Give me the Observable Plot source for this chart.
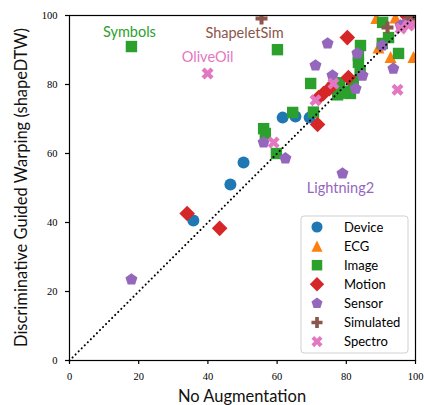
<!DOCTYPE html>
<html><head><meta charset="utf-8">
<script src="https://cdn.jsdelivr.net/npm/d3@7"></script>
<script src="https://cdn.jsdelivr.net/npm/@observablehq/plot@0.6"></script>
<style>
body{margin:0;background:#fff}
#chart{position:relative;width:424px;height:405px}
</style>
</head><body><div id="chart"></div>
<script>
// ---- data ----
const categories = ["Device","ECG","Image","Motion","Sensor","Simulated","Spectro"];
const colors = ["#1f77b4","#ff7f0e","#2ca02c","#d62728","#9467bd","#8c564b","#e377c2"];
const device = [[35.8,40.6],[46.5,51],[50.3,57.4],[61.6,70.4],[65.3,70.7],[69.4,70.4]];
const ecg = [[88.7,99.3],[94.2,99.4],[99,99.2],[92.8,88],[99.4,88],[89.3,90.7],[92.2,94.2]];
const image = [[17.9,91],[60.1,90.1],[59.8,60],[56.1,67.2],[56.6,65.8],[64.5,71.9],[69.7,80.3],[90.5,98],[84.1,91.3],[83.5,88.4],[95.1,89],[90.4,91.9],[92.2,93.6],[83.5,86.4],[76,79],[78,80.5],[80,78],[82,81],[84,84],[77.5,77],[70.5,72],[79,77.5],[81.2,77.4]];
const motion = [[34,42.6],[43.4,38.3],[80.3,93.6],[71.7,68.4],[73.4,77.4],[72,76.2],[75.1,78.8],[80.6,82],[97.7,99.7]];
const sensor = [[17.9,23.5],[62.4,58.6],[78.9,54.2],[74.6,91.9],[71.1,85.5],[56.1,63.2],[76,82.6],[82.7,78.8],[84.7,82.6],[93.6,84.6],[83.2,89],[90.4,91.3],[95.7,97.1],[97.5,98]];
const simulated = [[55.5,99.1],[91.9,96.5],[98.6,99.1]];
const spectro = [[39.9,83.2],[59,63.2],[94.8,78.5],[76.3,80.3],[71.1,75.4],[95.7,96.2],[98,97.1],[99.5,97.5]];
const seriesValues = [device, ecg, image, motion, sensor, simulated, spectro];
const xTicks = [0,20,40,60,80,100];
const yTicks = [0,20,40,60,80,100];
const labelNames = ["Symbols","ShapeletSim","OliveOil","Lightning2"];
const labelCats = ["Image","Simulated","Spectro","Sensor"];
const labelPoints = [[17.9,91],[55.5,99.1],[39.9,83.2],[78.9,54.2]];
const labelOffsets = [[-2,-14],[-17,15],[0,-16],[-2,15]];

// ---- marker shapes (matplotlib o ^ s D p P X) ----
function half(s){return Math.sqrt(s/Math.PI);}
const shapes = [
  {draw(c,s){const h=half(s); c.moveTo(h,0); c.arc(0,0,h,0,2*Math.PI); c.closePath();}},
  {draw(c,s){const h=half(s); c.moveTo(0,-h); c.lineTo(h,h); c.lineTo(-h,h); c.closePath();}},
  {draw(c,s){const h=half(s)*0.95; c.moveTo(-h,-h); c.lineTo(h,-h); c.lineTo(h,h); c.lineTo(-h,h); c.closePath();}},
  {draw(c,s){const a=half(s)*1.3; c.moveTo(0,-a); c.lineTo(a,0); c.lineTo(0,a); c.lineTo(-a,0); c.closePath();}},
  {draw(c,s){const h=half(s)*1.05; for(let k=0;k<5;k++){const t=-Math.PI/2+k*2*Math.PI/5; const px=h*Math.cos(t), py=h*Math.sin(t); k?c.lineTo(px,py):c.moveTo(px,py);} c.closePath();}},
  {draw(c,s){const h=half(s), w=h/3; const p=[[-w,-h],[w,-h],[w,-w],[h,-w],[h,w],[w,w],[w,h],[-w,h],[-w,w],[-h,w],[-h,-w],[-w,-w]]; p.forEach((q,i)=>i?c.lineTo(q[0],q[1]):c.moveTo(q[0],q[1])); c.closePath();}},
  {draw(c,s){const u=half(s)/2; const p=[[-1,-2],[0,-1],[1,-2],[2,-1],[1,0],[2,1],[1,2],[0,1],[-1,2],[-2,1],[-1,0],[-2,-1]]; p.forEach((q,i)=>i?c.lineTo(q[0]*u,q[1]*u):c.moveTo(q[0]*u,q[1]*u)); c.closePath();}}
];

const R = 6;
const sans = "Lato, 'Open Sans', sans-serif";
const serif = "'Liberation Serif', 'DejaVu Serif', serif";

const dotMarks = seriesValues.map((pts,i) => Plot.dot(pts, {
  x: d=>d[0], y: d=>d[1], r: R, symbol: shapes[i], fill: colors[i], stroke: "none", clip: true
}));

const labelData = labelNames.map((n,i)=>({name:n, x:labelPoints[i][0], y:labelPoints[i][1], dx:labelOffsets[i][0], dy:labelOffsets[i][1], color: colors[categories.indexOf(labelCats[i])]}));

const plot = Plot.plot({
  width: 424, height: 405,
  marginLeft: 69, marginRight: 9, marginTop: 15, marginBottom: 45,
  x: {domain:[0,100]},
  y: {domain:[0,100]},
  style: {background:"white"},
  marks: [
    ...dotMarks,
    Plot.line([[0,0],[100,100]], {x:d=>d[0], y:d=>d[1], stroke:"black", strokeWidth:2, strokeDasharray:"0.1,4.2", strokeLinecap:"round"}),
    ...labelData.map(d => Plot.text([d], {x:"x", y:"y", text:"name", dx:d.dx, dy:d.dy, fill:d.color, fontSize:14.5, fontFamily:sans})),
    Plot.frame({stroke:"black", strokeWidth:1.2}),
    Plot.axisX({ticks:xTicks, tickSize:4, tickPadding:8, label:null, fontSize:10.5, fontFamily:serif, strokeWidth:1.2}),
    Plot.axisY({ticks:yTicks, tickSize:4, tickPadding:8, label:null, fontSize:10.5, fontFamily:serif, strokeWidth:1.2})
  ]
});

const svg = d3.select(plot);
const xs = plot.scale("x").range, ys = plot.scale("y").range;
const cx = (xs[0]+xs[1])/2, cy = (ys[0]+ys[1])/2;
svg.append("text").attr("x", cx).attr("y", 402).attr("text-anchor","middle")
  .style("font-family", sans).style("font-size","16.5px").attr("fill","#111").text("No Augmentation");
svg.append("text").attr("transform", `translate(27,${cy}) rotate(-90)`).attr("text-anchor","middle")
  .style("font-family", sans).style("font-size","16.5px").attr("fill","#111").text("Discriminative Guided Warping (shapeDTW)");

// legend
const right = xs[1], bottom = ys[0];
const lg = svg.append("g").attr("transform", `translate(${right-114},${bottom-144})`);
lg.append("rect").attr("x",0).attr("y",0).attr("width",107).attr("height",137).attr("rx",3)
  .attr("fill","white").attr("fill-opacity",0.85).attr("stroke","#d0d0d0").attr("stroke-width",1);
categories.forEach((c,i)=>{
  const yy = 11 + i*19.1;
  const p = d3.path(); shapes[i].draw(p, Math.PI*R*R*0.85);
  lg.append("path").attr("d", p.toString()).attr("transform", `translate(16,${yy})`).attr("fill", colors[i]);
  lg.append("text").attr("x",43).attr("y",yy).attr("dy","0.35em").attr("text-anchor","start")
    .style("font-family",sans).style("font-size","13px").attr("fill","black").text(c);
});

document.getElementById("chart").appendChild(plot);
</script>
</body></html>
